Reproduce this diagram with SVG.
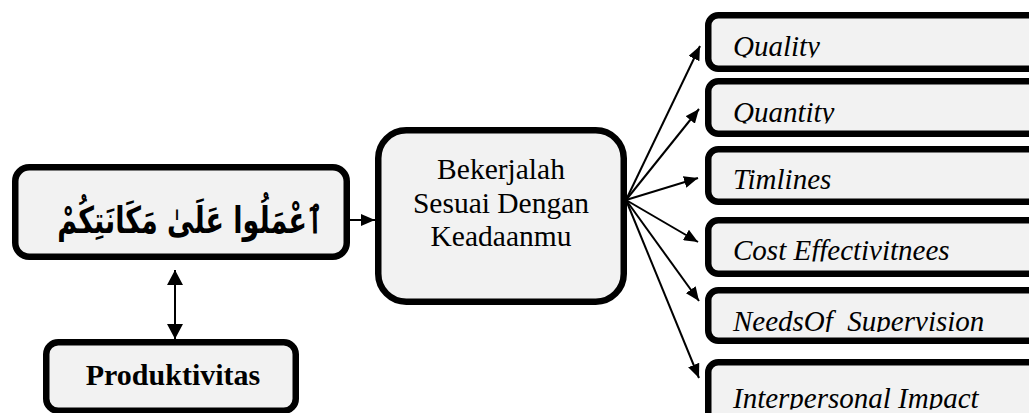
<svg xmlns="http://www.w3.org/2000/svg" width="1029" height="413" viewBox="0 0 1029 413">
  <style>
    .box { fill: #f2f2f2; stroke: #000; stroke-width: 6.5; }
    .link { fill: none; stroke: #000; stroke-width: 2; }
    .serif { font-family: "Liberation Serif", "Times New Roman", serif; fill: #000; }
    .mid { font-size: 29.5px; text-anchor: middle; }
    .item { font-size: 29px; font-style: italic; white-space: pre; }
    .bold { font-size: 30px; font-weight: bold; text-anchor: middle; }
    .arabic { font-family: "DejaVu Sans", sans-serif; font-size: 37px; font-weight: bold; text-anchor: middle; fill: #000; }
  </style>
  <defs>
    <marker id="head" viewBox="0 0 14 12" refX="14" refY="6" markerWidth="14" markerHeight="12" markerUnits="userSpaceOnUse" orient="auto-start-reverse">
      <path d="M0,0 L14,6 L0,12 Z" fill="#000"/>
    </marker>
    <marker id="headWide" viewBox="0 0 15 16" refX="15" refY="8" markerWidth="15" markerHeight="16" markerUnits="userSpaceOnUse" orient="auto-start-reverse">
      <path d="M0,0 L15,8 L0,16 Z" fill="#000"/>
    </marker>
    <!-- the item labels overflow their boxes and are cut at the baseline -->
    <clipPath id="c1"><rect x="710" y="14" width="330" height="43.5"/></clipPath>
    <clipPath id="c2"><rect x="710" y="80" width="330" height="43.5"/></clipPath>
    <clipPath id="c3"><rect x="710" y="148" width="330" height="43"/></clipPath>
    <clipPath id="c4"><rect x="710" y="219" width="330" height="42.5"/></clipPath>
    <clipPath id="c5"><rect x="710" y="289" width="330" height="43"/></clipPath>
    <clipPath id="c6"><rect x="710" y="361" width="330" height="48.5"/></clipPath>
  </defs>

  <g id="connectors">
    <line class="link" x1="350" y1="220" x2="375" y2="220" marker-end="url(#head)"/>
    <line class="link" x1="175" y1="270" x2="175" y2="339" marker-start="url(#headWide)" marker-end="url(#headWide)"/>
    <line class="link" x1="626" y1="200" x2="700" y2="46" marker-end="url(#head)"/>
    <line class="link" x1="626" y1="200" x2="699" y2="109" marker-end="url(#head)"/>
    <line class="link" x1="626" y1="200" x2="698" y2="178" marker-end="url(#head)"/>
    <line class="link" x1="626" y1="200" x2="698" y2="242" marker-end="url(#head)"/>
    <line class="link" x1="626" y1="200" x2="699" y2="301" marker-end="url(#head)"/>
    <line class="link" x1="626" y1="200" x2="699" y2="378" marker-end="url(#head)"/>
  </g>

  <g id="verse">
    <rect class="box" x="15.25" y="167.25" width="331.5" height="89.5" rx="14"/>
    <!-- condensed horizontally to give the verse a taller, narrower look -->
    <text class="arabic" transform="translate(190 233) scale(0.73 1)" x="0" y="0">ٱعْمَلُوا عَلَىٰ مَكَانَتِكُمْ</text>
  </g>

  <g id="productivity">
    <rect class="box" x="46.25" y="342.25" width="249.5" height="68.5" rx="12"/>
    <text class="serif bold" x="173" y="385">Produktivitas</text>
  </g>

  <g id="work-principle">
    <rect class="box" x="378.25" y="130.25" width="245.5" height="171.5" rx="28"/>
    <text class="serif mid" x="501" y="179">Bekerjalah</text>
    <text class="serif mid" x="501" y="212.5">Sesuai Dengan</text>
    <text class="serif mid" x="501" y="246">Keadaanmu</text>
  </g>

  <g id="quality">
    <rect class="box" x="708.25" y="15.25" width="400" height="53.5" rx="10"/>
    <text class="serif item" x="733" y="56" clip-path="url(#c1)">Quality</text>
  </g>
  <g id="quantity">
    <rect class="box" x="708.25" y="81.25" width="400" height="52.5" rx="10"/>
    <text class="serif item" x="733" y="122" clip-path="url(#c2)">Quantity</text>
  </g>
  <g id="timelines">
    <rect class="box" x="708.25" y="149.25" width="400" height="52.5" rx="10"/>
    <text class="serif item" x="733" y="189" clip-path="url(#c3)">Timlines</text>
  </g>
  <g id="cost">
    <rect class="box" x="708.25" y="220.25" width="400" height="53.5" rx="10"/>
    <text class="serif item" x="733" y="260" clip-path="url(#c4)">Cost Effectivitnees</text>
  </g>
  <g id="supervision">
    <rect class="box" x="708.25" y="290.25" width="400" height="50.5" rx="10"/>
    <text class="serif item" x="733" y="330.5" clip-path="url(#c5)">NeedsOf  Supervision</text>
  </g>
  <g id="interpersonal">
    <rect class="box" x="708.25" y="362.25" width="400" height="80" rx="10"/>
    <text class="serif item" x="733" y="408" clip-path="url(#c6)">Interpersonal Impact</text>
  </g>
</svg>
